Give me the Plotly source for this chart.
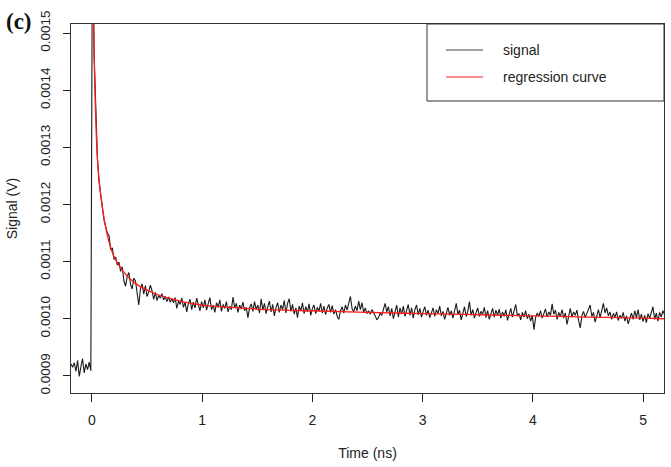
import numpy as np
import plotly.graph_objects as go

# ---- data ----
time_start_ns = -0.19
time_step_ns = 0.015

signal_V = [
    0.000921, 0.000915, 0.000923, 0.000908, 0.000927, 0.000899, 0.000916, 0.000930, 0.000905, 0.000921,
    0.000911, 0.000924, 0.000909, 0.001720, 0.001460, 0.001350, 0.001280, 0.001240, 0.001218, 0.001196,
    0.001172, 0.001161, 0.001150, 0.001146, 0.001121, 0.001124, 0.001104, 0.001108, 0.001094, 0.001099,
    0.001083, 0.001091, 0.001066, 0.001057, 0.001074, 0.001081, 0.001060, 0.001052, 0.001071, 0.001066,
    0.001041, 0.001024, 0.001052, 0.001061, 0.001043, 0.001058, 0.001039, 0.001047, 0.001059, 0.001049,
    0.001034, 0.001046, 0.001032, 0.001041, 0.001036, 0.001044, 0.001033, 0.001039, 0.001030, 0.001038,
    0.001029, 0.001035, 0.001028, 0.001037, 0.001018, 0.001031, 0.001025, 0.001036, 0.001020, 0.001029,
    0.001012, 0.001027, 0.001034, 0.001016, 0.001029, 0.001019, 0.001036, 0.001022, 0.001014, 0.001030,
    0.001019, 0.001033, 0.001015, 0.001027, 0.001037, 0.001016, 0.001024, 0.001011, 0.001028, 0.001020,
    0.001033, 0.001013, 0.001025, 0.001018, 0.001030, 0.001012, 0.001022, 0.001016, 0.001038, 0.001019,
    0.001027, 0.001011, 0.001024, 0.001017, 0.001029, 0.001014, 0.001020, 0.001002, 0.001019, 0.001026,
    0.001013, 0.001030, 0.001016, 0.001024, 0.001010, 0.001035, 0.001015, 0.001027, 0.001009, 0.001021,
    0.001031, 0.001012, 0.001025, 0.001005, 0.001020, 0.001028, 0.001011, 0.001024, 0.001016, 0.001032,
    0.001010, 0.001027, 0.001035, 0.001013, 0.001025, 0.001008, 0.001019, 0.001002, 0.001022, 0.001014,
    0.001028, 0.001009, 0.001021, 0.001012, 0.001026, 0.001006, 0.001018, 0.001024, 0.001009, 0.001020,
    0.001013, 0.001027, 0.001010, 0.001022, 0.001007, 0.001019, 0.001025, 0.001011, 0.001023, 0.001008,
    0.001016, 0.001004, 0.000999, 0.001014, 0.001021, 0.001010, 0.001024, 0.001015, 0.001027, 0.001039,
    0.001018, 0.001012, 0.001022, 0.001014, 0.001031, 0.001016, 0.001028, 0.001011, 0.001019, 0.001009,
    0.001014, 0.001008, 0.001016, 0.001011, 0.001005, 0.000998, 0.001002, 0.001010, 0.001006, 0.001017,
    0.001027, 0.001012, 0.001021, 0.001005, 0.001018, 0.001000, 0.001015, 0.001024, 0.001003, 0.001019,
    0.001008, 0.001022, 0.001004, 0.001014, 0.001025, 0.001006, 0.001019, 0.001001, 0.001016, 0.001024,
    0.001007, 0.001018, 0.001003, 0.001013, 0.001021, 0.001006, 0.001015, 0.001002, 0.001012, 0.001019,
    0.001004, 0.001016, 0.001009, 0.001022, 0.001005, 0.001013, 0.000999, 0.001011, 0.001020, 0.001006,
    0.001014, 0.001001, 0.001017, 0.001027, 0.001008, 0.001015, 0.000998, 0.001012, 0.001021, 0.001004,
    0.001013, 0.001030, 0.001006, 0.001016, 0.001001, 0.001011, 0.001019, 0.001004, 0.001013, 0.001008,
    0.001020, 0.001002, 0.001014, 0.000999, 0.001011, 0.001018, 0.001003, 0.001015, 0.001006, 0.001017,
    0.001001, 0.001012, 0.001004, 0.001016, 0.000997, 0.001010, 0.001018, 0.001003, 0.001012, 0.001025,
    0.001005, 0.001009, 0.000998, 0.001011, 0.001003, 0.001014, 0.001000, 0.001008, 0.000996, 0.001006,
    0.000981, 0.001002, 0.001010, 0.001004, 0.001014, 0.001001, 0.001009, 0.001017, 0.001003, 0.001012,
    0.001006, 0.001026, 0.001008, 0.001015, 0.000999, 0.001011, 0.001004, 0.001016, 0.001001, 0.001010,
    0.000990, 0.001007, 0.001018, 0.001003, 0.001012, 0.001006, 0.001015, 0.000997, 0.000984, 0.001005,
    0.001013, 0.001002, 0.001010, 0.001018, 0.001024, 0.001004, 0.001011, 0.000994, 0.001008, 0.001016,
    0.001002, 0.001013, 0.001027, 0.001010, 0.001019, 0.001005, 0.001012, 0.000999, 0.001009, 0.001003,
    0.001012, 0.000997, 0.001006, 0.001001, 0.001011, 0.000996, 0.001005, 0.000991, 0.001003, 0.001010,
    0.000999, 0.001014, 0.001002, 0.001016, 0.000998, 0.001008, 0.000995, 0.001006, 0.000993, 0.001009,
    0.001001, 0.001012, 0.001021, 0.000999, 0.001010, 0.000996, 0.001011, 0.001003, 0.001014, 0.001007,
]
signal_time_ns = time_start_ns + time_step_ns * np.arange(len(signal_V))

regression_time_ns = [0.005, 0.01, 0.02, 0.03, 0.04, 0.05, 0.06, 0.07, 0.08, 0.10, 0.12, 0.14, 0.16,
                      0.18, 0.20, 0.25, 0.30, 0.35, 0.40, 0.50, 0.60, 0.70, 0.80, 0.90, 1.00, 1.25,
                      1.50, 1.75, 2.00, 2.50, 3.00, 3.50, 4.00, 4.50, 5.00, 5.19]
regression_V = [0.00170, 0.00158, 0.00146, 0.00138, 0.00132, 0.00128, 0.001252, 0.001232, 0.001215,
                0.001188, 0.001165, 0.001146, 0.001131, 0.001119, 0.001109, 0.001092, 0.001079,
                0.001069, 0.001061, 0.001050, 0.001042, 0.001036, 0.001031, 0.001027, 0.001024,
                0.001020, 0.001017, 0.001015, 0.001014, 0.001011, 0.001009, 0.001007, 0.001005,
                0.001003, 0.001001, 0.001000]

x_ticks = [0, 1, 2, 3, 4, 5]
y_ticks = [0.0009, 0.0010, 0.0011, 0.0012, 0.0013, 0.0014, 0.0015]
y_tick_labels = ["0.0009", "0.0010", "0.0011", "0.0012", "0.0013", "0.0014", "0.0015"]
legend_labels = ["signal", "regression curve"]
series_colors = ["#1a1a1a", "#ff1a1a"]

# ---- figure ----
FONT = "Liberation Sans, Arial, Helvetica, sans-serif"
fig = go.Figure()
fig.add_trace(go.Scatter(x=signal_time_ns, y=signal_V, mode="lines", name=legend_labels[0],
                         line=dict(color=series_colors[0], width=1.1)))
fig.add_trace(go.Scatter(x=regression_time_ns, y=regression_V, mode="lines", name=legend_labels[1],
                         line=dict(color=series_colors[1], width=1.3, shape="spline")))

L, R, T, B = 71, 7, 24, 74
W, H = 671, 467
pw, ph = W - L - R, H - T - B

def px(xp):
    return (xp - L) / pw

def py(yp):
    return (H - B - yp) / ph

fig.update_layout(
    width=W, height=H,
    margin=dict(l=L, r=R, t=T, b=B, autoexpand=False),
    paper_bgcolor="white", plot_bgcolor="white",
    showlegend=False,
    font=dict(family=FONT, size=14, color="#222222"),
    xaxis=dict(range=[-0.19, 5.19], tickvals=x_ticks, ticks="outside", ticklen=8,
               tickcolor="#222", tickwidth=1, showline=True, mirror=True, linecolor="#333",
               linewidth=1, showgrid=False, zeroline=False, automargin=False,
               tickfont=dict(size=14), ticklabelstandoff=6,
               title=dict(text="Time (ns)", font=dict(size=14), standoff=21)),
    yaxis=dict(range=[0.000870, 0.001516], tickvals=y_ticks, ticktext=y_tick_labels,
               tickangle=-90, ticks="outside", ticklen=7, tickcolor="#222", tickwidth=1,
               showline=True, mirror=True, linecolor="#333", linewidth=1, showgrid=False,
               zeroline=False, automargin=False, tickfont=dict(size=13.5), ticklabelstandoff=8,
               title=dict(text="Signal (V)", font=dict(size=14), standoff=16)),
)

# legend box drawn like the R legend
fig.add_shape(type="rect", xref="paper", yref="paper", x0=px(427), x1=1.0, y0=py(101), y1=1.0,
              line=dict(color="#333", width=1), fillcolor="white", layer="above")
for i, (lab, col, yy) in enumerate(zip(legend_labels, series_colors, [50, 77])):
    fig.add_shape(type="line", xref="paper", yref="paper", x0=px(446), x1=px(483), y0=py(yy), y1=py(yy),
                  line=dict(color=col if i == 1 else "#444", width=1), layer="above")
    fig.add_annotation(text=lab, xref="paper", yref="paper", x=px(501), y=py(yy), xanchor="left",
                       yanchor="middle", showarrow=False, font=dict(size=14, color="#222"))

fig.add_annotation(text="<b>(c)</b>", xref="paper", yref="paper", x=px(4), y=py(22), xanchor="left",
                   yanchor="middle", showarrow=False,
                   font=dict(family="Liberation Serif, Times New Roman, serif", size=23, color="#111"))

fig.write_html("out.html", config={"displayModeBar": False},
               post_script="document.body.style.margin='0';document.body.style.overflow='hidden';")
